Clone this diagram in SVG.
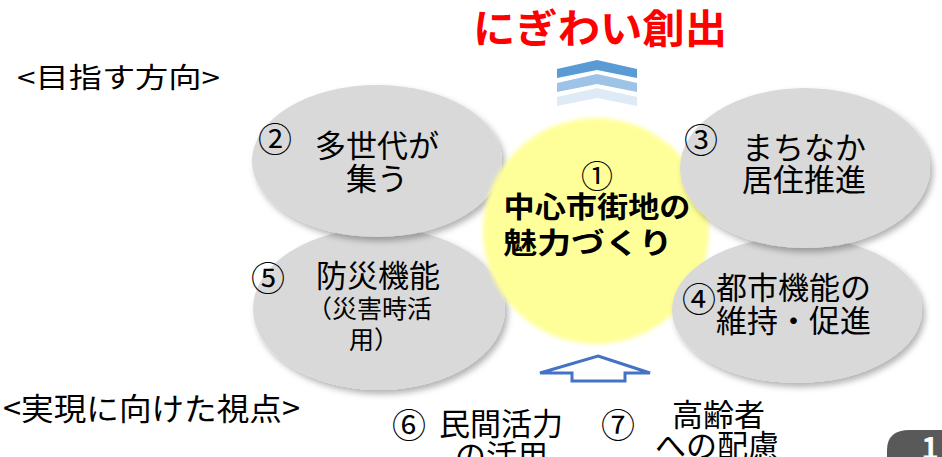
<svg xmlns="http://www.w3.org/2000/svg" width="942" height="457" viewBox="0 0 942 457">
<defs>
<filter id="sh" x="-20%" y="-20%" width="150%" height="150%">
<feDropShadow dx="3" dy="4" stdDeviation="3" flood-color="#000" flood-opacity="0.3"/>
</filter>
<filter id="soft" x="-10%" y="-10%" width="120%" height="120%">
<feGaussianBlur stdDeviation="2"/>
</filter>
<style>
text{font-family:"Noto Sans CJK JP","Liberation Sans",sans-serif;fill:#000}
.ell{fill:#D9D9D9;filter:url(#sh)}
.t{font-size:31px}
.n{font-size:34px}
.s{font-size:25px}
.c{text-anchor:middle}
</style>
</defs>
<rect width="942" height="457" fill="#fff"/>
<text x="600" y="43" style="font-size:40px;font-weight:bold;fill:#FF0000" text-anchor="middle" textLength="254" lengthAdjust="spacingAndGlyphs">にぎわい創出</text>
<text x="17" y="88" style="font-size:28px" textLength="203" lengthAdjust="spacingAndGlyphs">&lt;目指す方向&gt;</text>
<text x="3" y="420" style="font-size:31px" textLength="297" lengthAdjust="spacingAndGlyphs">&lt;実現に向けた視点&gt;</text>

<g id="node5">
<ellipse class="ell" cx="379" cy="309" rx="126" ry="81"/>
<text class="n" x="251" y="291">⑤</text>
<text class="t" x="316" y="287">防災機能</text>
<text class="s" x="307" y="318">（災害時活</text>
<text class="s" x="349" y="349">用）</text>
</g>
<g id="node2">
<ellipse class="ell" cx="377" cy="161" rx="125" ry="76"/>
<text class="n" x="258" y="152">②</text>
<text class="t c" x="377" y="157">多世代が</text>
<text class="t c" x="377" y="190">集う</text>
</g>
<g id="node1">
<circle cx="596" cy="231" r="113" fill="#FFFF99" filter="url(#soft)"/>
<text class="c" x="597" y="188" style="font-size:32px">①</text>
<text class="c" x="597" y="218" style="font-size:29px;font-weight:bold" textLength="187" lengthAdjust="spacingAndGlyphs">中心市街地の</text>
<text class="c" x="588" y="254" style="font-size:29px;font-weight:bold" textLength="169" lengthAdjust="spacingAndGlyphs">魅力づくり</text>
</g>
<g id="node4">
<ellipse class="ell" cx="797" cy="310" rx="125" ry="73"/>
<text class="n" x="682" y="312">④</text>
<text class="t" x="716" y="299">都市機能の</text>
<text class="t" x="716" y="332">維持・促進</text>
</g>
<g id="node3">
<ellipse class="ell" cx="805" cy="168" rx="125" ry="80"/>
<text class="n" x="684" y="153">③</text>
<text class="t c" x="804" y="159">まちなか</text>
<text class="t c" x="804" y="191">居住推進</text>
</g>
<g id="node6">
<text class="n" x="392" y="438">⑥</text>
<text class="t" x="439" y="435">民間活力</text>
<text class="t" x="455" y="467">の活用</text>
</g>
<g id="node7">
<text class="n" x="601" y="438">⑦</text>
<text class="t" x="672" y="426">高齢者</text>
<text class="t" x="655" y="457">への配慮</text>
</g>
<g id="connectors">
<polygon points="557,69 597,60 637,69 637,78 597,70 557,78" fill="#5B9BD5"/>
<polygon points="557,83 597,74 637,83 637,92 597,84 557,92" fill="#9DC3E6"/>
<polygon points="557,97 597,88 637,97 637,106 597,98 557,106" fill="#DEEBF7"/>
<polygon points="598,356 650,373 625,373 625,381 572,381 572,373 540,373" fill="#fff" stroke="#4472C4" stroke-width="3" stroke-linejoin="miter"/>
</g>
<g id="page">
<path d="M887,457 L887,450 Q887,430 910,430 L942,430 L942,457 Z" fill="#595959"/>
<text x="930" y="459" style="font-size:30px;font-weight:bold;fill:#fff" text-anchor="middle">1</text>
</g>
</svg>
